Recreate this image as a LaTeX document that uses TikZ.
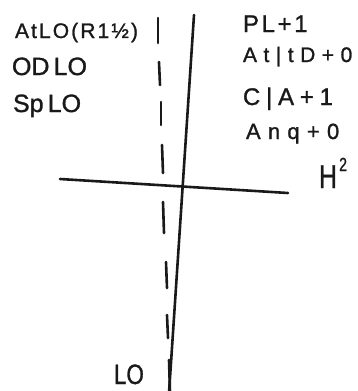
\documentclass[tikz,border=0pt]{standalone}
\usepackage{fontspec}
\setmainfont{Liberation Sans}
\newcommand{\hw}[2]{\fontsize{#1}{#1}\selectfont\addfontfeatures{LetterSpace=#2,FakeBold=1.2}}
\begin{document}
\begin{tikzpicture}[x=1pt,y=-1pt,
  ink/.style={line width=2.6pt,color=black!90,line cap=round},
  dashseg/.style={line width=2.6pt,color=black!90,line cap=round},
  hand/.style={anchor=base west,inner sep=0pt,outer sep=0pt,text=black!90}]
\useasboundingbox (0,0) rectangle (357,391);
\clip (0,0) rectangle (357,391);
% solid lines
\coordinate (vtop) at (194,15);
\coordinate (vbot) at (169,393);
\coordinate (hleft) at (60,179);
\coordinate (hright) at (288,193);
\draw[ink] (vtop) -- (vbot);
\draw[ink] (hleft) -- (hright);
% dashed line (hand drawn dashes)
\foreach \xa/\ya/\xb/\yb in {158/18/158/43, 159/62/160/85, 161/102/161/125, 162/145/163/173,
  163/202/164/233, 166/262/167/288, 167/315/168/338, 169/360/170/392}
  \draw[dashseg] (\xa,\ya) -- (\xb,\yb);
% left notes
\node[hand,font=\hw{21}{10}] (l1) at (15,38) {AtLO(R1½)};
\node[hand,font=\hw{25}{0}] (l2) at (12,75) {OD\,LO};
\node[hand,font=\hw{25}{0}] (l3) at (13,112) {Sp\,LO};
% right notes
\node[hand,font=\hw{24}{11}] (r1) at (243,32) {PL+1};
\node[hand,font=\hw{21}{31}] (r2) at (243,62) {At|tD+0};
\node[hand,font=\hw{24}{24}] (r3) at (243,105) {C|A+1};
\node[hand,font=\hw{22}{33}] (r4) at (246,139) {Anq+0};
\node[hand,font=\hw{33}{0},xscale=0.75] (r5) at (319,188) {H\hspace{3pt}\raisebox{17pt}{\fontsize{19}{19}\selectfont 2}};
% bottom label
\node[hand,font=\hw{28}{0},xscale=0.8] (b1) at (114,384) {LO};
\end{tikzpicture}
\end{document}
